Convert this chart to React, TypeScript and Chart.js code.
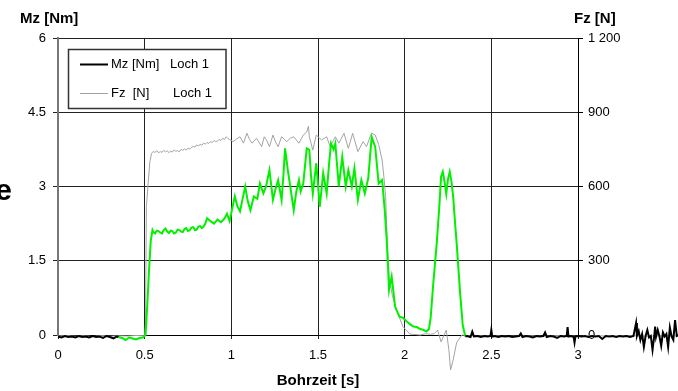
import React, { useEffect, useRef } from "react";
import { Chart, registerables } from "chart.js";

Chart.register(...registerables);

// x tick labels (Bohrzeit [s]) and y tick labels
const xTicks = [0, 0.5, 1, 1.5, 2, 2.5, 3];
const xTickLabels = ["0", "0.5", "1", "1.5", "2", "2.5", "3"];
const mzTicks = [0, 1.5, 3, 4.5, 6];
const mzTickLabels = ["0", "1.5", "3", "4.5", "6"];
const fzTicks = [0, 300, 600, 900, 1200];
const fzTickLabels = ["0", "300", "600", "900", "1 200"];

const seriesLabels = ["Mz [Nm]", "Fz  [N]"];
const holeLabel = "Loch 1";

// time window in which the Mz trace is drawn green
const mzGreenFrom = 0.35;
const mzGreenTo = 2.35;

// Mz [Nm] Loch 1 : [time s, torque Nm]
const mzPoints: [number, number][] = [
  [0, -0.03], [0.02, -0.05], [0.04, -0.02], [0.06, -0.04], [0.08, -0.03], [0.1, -0.05],
  [0.12, -0.02], [0.14, -0.04], [0.16, -0.03], [0.18, -0.05], [0.2, -0.02], [0.22, -0.04],
  [0.24, -0.03], [0.26, -0.06], [0.28, -0.02], [0.3, -0.04], [0.32, -0.07], [0.34, -0.03],
  [0.35, -0.04], [0.37, -0.06], [0.39, -0.1], [0.41, -0.05], [0.43, -0.07], [0.45, -0.09],
  [0.47, -0.06], [0.49, -0.05], [0.505, 0.0], [0.515, 0.6], [0.525, 1.3], [0.535, 1.9],
  [0.545, 2.12], [0.55, 2.08], [0.56, 2.05], [0.57, 2.11], [0.58, 2.1], [0.59, 2.07], [0.6, 2.05],
  [0.61, 2.12], [0.62, 2.15], [0.63, 2.09], [0.64, 2.06], [0.65, 2.11],
  [0.66, 2.1], [0.67, 2.05], [0.68, 2.07], [0.69, 2.13], [0.7, 2.12], [0.71, 2.09], [0.72, 2.08],
  [0.73, 2.14], [0.74, 2.16], [0.75, 2.1], [0.76, 2.12],
  [0.77, 2.17], [0.78, 2.18], [0.79, 2.12], [0.8, 2.13], [0.81, 2.19], [0.82, 2.2], [0.83, 2.16],
  [0.84, 2.19], [0.85, 2.25], [0.86, 2.36], [0.87, 2.33], [0.88, 2.3],
  [0.9, 2.25], [0.92, 2.33], [0.94, 2.28], [0.96, 2.35], [0.975, 2.45], [0.99, 2.3],
  [1.005, 2.55], [1.02, 2.8], [1.035, 2.6], [1.05, 2.5], [1.065, 2.75], [1.08, 3.0],
  [1.095, 2.7], [1.11, 2.52], [1.13, 2.8], [1.15, 2.75], [1.165, 3.06], [1.185, 2.86],
  [1.2, 3.0], [1.22, 3.33], [1.24, 2.73], [1.255, 2.95], [1.27, 3.13], [1.29, 2.73],
  [1.3, 3.2], [1.31, 3.77], [1.325, 3.35], [1.34, 3.0], [1.36, 2.52], [1.375, 2.9],
  [1.39, 3.13], [1.4, 2.9], [1.415, 3.06], [1.435, 3.77], [1.45, 3.74], [1.46, 3.2],
  [1.47, 2.86], [1.49, 3.47], [1.51, 2.59], [1.53, 3.27], [1.55, 2.86], [1.565, 3.5],
  [1.575, 3.87], [1.59, 3.75], [1.6, 3.87], [1.62, 3.0], [1.64, 3.6], [1.66, 3.0],
  [1.675, 3.33], [1.695, 3.0], [1.71, 3.37], [1.73, 2.73], [1.75, 3.13], [1.77, 2.86],
  [1.79, 3.17], [1.8, 3.6], [1.81, 4.0], [1.83, 3.8], [1.85, 3.06], [1.87, 3.13],
  [1.885, 2.52], [1.895, 2.0], [1.905, 1.3], [1.91, 0.91], [1.925, 1.18], [1.945, 0.57],
  [1.97, 0.37], [1.99, 0.35], [2.01, 0.28], [2.03, 0.22], [2.05, 0.17], [2.07, 0.16],
  [2.09, 0.12], [2.11, 0.1], [2.125, 0.07], [2.14, 0.12], [2.15, 0.35], [2.165, 1.04],
  [2.185, 1.85], [2.2, 2.6], [2.21, 3.2], [2.22, 3.3], [2.23, 3.1], [2.24, 2.85],
  [2.25, 3.15], [2.26, 3.3], [2.27, 3.1], [2.28, 2.79], [2.29, 2.3], [2.3, 1.85],
  [2.32, 0.84], [2.335, 0.2], [2.35, -0.03],
  [2.36, -0.02], [2.38, -0.04], [2.39, 0.07], [2.4, -0.03], [2.42, -0.02], [2.44, -0.04],
  [2.46, -0.02], [2.48, -0.03], [2.495, -0.02], [2.5, 0.1], [2.505, -0.03], [2.52, -0.02],
  [2.54, -0.04], [2.56, -0.02], [2.58, -0.03], [2.6, -0.02], [2.62, -0.04], [2.64, -0.03],
  [2.66, -0.02], [2.67, 0.03], [2.68, -0.04], [2.7, -0.02], [2.72, -0.03], [2.74, -0.05],
  [2.76, -0.02], [2.78, -0.03], [2.8, -0.02], [2.81, 0.05], [2.82, -0.04], [2.84, -0.02],
  [2.86, -0.03], [2.88, -0.06], [2.9, -0.02], [2.92, -0.03], [2.935, -0.02], [2.94, 0.16],
  [2.945, -0.03], [2.96, -0.02], [2.975, -0.04], [2.98, -0.15], [2.985, -0.03], [3.0, -0.02],
  [3.02, -0.03], [3.04, -0.02], [3.06, -0.04], [3.08, -0.02], [3.1, -0.03], [3.12, -0.02],
  [3.14, -0.08], [3.16, -0.02], [3.18, -0.03], [3.2, -0.02], [3.22, -0.04], [3.24, -0.02],
  [3.26, -0.03], [3.28, -0.02], [3.3, -0.04], [3.32, -0.02], [3.335, 0.24], [3.34, -0.02],
  [3.35, 0.08], [3.36, -0.1], [3.37, 0.02], [3.38, -0.24], [3.39, -0.02], [3.4, 0.1],
  [3.41, -0.05], [3.42, -0.02], [3.43, -0.3], [3.44, -0.02], [3.445, 0.17], [3.45, -0.04],
  [3.46, 0.1], [3.47, -0.03], [3.48, -0.22], [3.49, 0.05], [3.5, -0.03], [3.51, 0.02],
  [3.52, -0.24], [3.53, 0.15], [3.54, -0.03], [3.55, -0.1], [3.56, 0.3], [3.57, -0.02],
  [3.58, 0.0],
];

// Fz [N] Loch 1 : [time s, force N]
const fzPoints: [number, number][] = [
  [0, -4], [0.05, -2], [0.1, -5], [0.15, -3], [0.2, -6], [0.25, -2], [0.3, -5], [0.35, -3],
  [0.4, -4], [0.45, -2], [0.5, -3], [0.505, 50], [0.51, 518], [0.52, 613], [0.53, 700],
  [0.54, 734], [0.55, 742], [0.56, 737], [0.57, 745], [0.58, 736], [0.59, 741], [0.6, 738],
  [0.61, 746], [0.62, 740], [0.63, 744], [0.64, 737], [0.65, 743], [0.66, 739], [0.67, 748],
  [0.68, 742], [0.69, 745], [0.7, 740], [0.71, 750], [0.72, 746], [0.73, 752], [0.74, 747],
  [0.75, 755], [0.76, 751], [0.77, 758], [0.78, 762], [0.79, 759], [0.8, 768], [0.81, 764],
  [0.82, 770], [0.83, 767], [0.84, 775], [0.85, 771], [0.86, 778], [0.87, 774], [0.88, 781],
  [0.89, 778], [0.9, 786], [0.91, 781], [0.92, 784], [0.93, 790], [0.94, 786], [0.95, 795],
  [0.96, 790], [0.97, 801], [0.98, 794], [0.99, 790], [1.01, 781], [1.03, 792], [1.05, 801],
  [1.07, 775], [1.09, 815],
  [1.105, 790], [1.12, 775], [1.145, 795], [1.175, 761], [1.19, 801], [1.205, 785], [1.22, 761],
  [1.24, 808], [1.255, 780], [1.27, 761], [1.29, 801], [1.32, 781], [1.34, 795], [1.36, 801],
  [1.39, 775], [1.415, 808], [1.435, 820], [1.445, 844], [1.45, 801], [1.47, 747], [1.49, 808],
  [1.52, 788], [1.55, 801], [1.57, 761], [1.6, 801], [1.62, 775], [1.65, 815], [1.675, 754],
  [1.7, 815], [1.73, 741], [1.76, 781], [1.78, 761], [1.8, 800], [1.81, 815], [1.83, 808],
  [1.85, 770], [1.87, 707], [1.88, 640], [1.89, 559], [1.9, 370], [1.91, 236], [1.93, 155],
  [1.96, 88], [1.99, 34], [2.03, 4], [2.06, 2], [2.09, 0], [2.12, 5], [2.15, 3], [2.17, 5],
  [2.19, 20], [2.21, -28], [2.24, 20], [2.255, -60], [2.265, -141], [2.28, -100], [2.3, -30],
  [2.33, 0], [2.4, -4], [2.5, -2], [2.6, -5], [2.7, -3], [2.8, -4], [2.9, -2], [3.0, -5],
  [3.1, -3], [3.2, -4], [3.3, -2], [3.4, -5], [3.5, -3], [3.58, -4],
];

const FONT = "'Liberation Sans', Arial, Helvetica, sans-serif";
const GREEN = "#00f000";
const GRAY = "#a3a3a3";

const overlayPlugin = {
  id: "overlay",
  afterDraw(chart: any) {
    const ctx = chart.ctx as CanvasRenderingContext2D;
    ctx.save();
    ctx.fillStyle = "#000";
    ctx.textBaseline = "alphabetic";
    ctx.font = `bold 15px ${FONT}`;
    ctx.textAlign = "left";
    ctx.fillText("Mz [Nm]", 20, 23);
    ctx.fillText("Fz [N]", 574, 23);
    ctx.font = `bold 30px ${FONT}`;
    ctx.textAlign = "right";
    ctx.fillText("e", 12, 200);

    // legend box
    ctx.fillStyle = "#fff";
    ctx.fillRect(68, 49, 158, 60);
    ctx.strokeStyle = "#333";
    ctx.lineWidth = 1.5;
    ctx.strokeRect(68.5, 49.5, 157.5, 59);

    ctx.strokeStyle = "#000";
    ctx.lineWidth = 2;
    ctx.beginPath();
    ctx.moveTo(80, 64.5);
    ctx.lineTo(108, 64.5);
    ctx.stroke();
    ctx.strokeStyle = GRAY;
    ctx.lineWidth = 1;
    ctx.beginPath();
    ctx.moveTo(80, 93.5);
    ctx.lineTo(108, 93.5);
    ctx.stroke();

    ctx.fillStyle = "#000";
    ctx.font = `13px ${FONT}`;
    ctx.textAlign = "left";
    ctx.textBaseline = "middle";
    ctx.fillText(seriesLabels[0], 111, 64);
    ctx.fillText(holeLabel, 170, 64);
    ctx.fillText(seriesLabels[1], 111, 93);
    ctx.fillText(holeLabel, 173, 93);
    ctx.restore();
  },
};

export default function App() {
  const ref = useRef<HTMLCanvasElement | null>(null);
  useEffect(() => {
    if (!ref.current) return;
    Chart.defaults.font.family = FONT;
    const chart = new Chart(ref.current, {
      type: "line",
      data: {
        datasets: [
          {
            label: seriesLabels[0] + " " + holeLabel,
            data: mzPoints.map(([x, y]) => ({ x, y })),
            yAxisID: "y",
            borderColor: "#000",
            borderWidth: 2,
            pointRadius: 0,
            tension: 0,
            clip: false as any,
            segment: {
              borderColor: (c: any) =>
                c.p0.parsed.x >= mzGreenFrom && c.p1.parsed.x <= mzGreenTo ? GREEN : "#000",
            },
          },
          {
            label: seriesLabels[1] + " " + holeLabel,
            data: fzPoints.map(([x, y]) => ({ x, y })),
            yAxisID: "y2",
            borderColor: GRAY,
            borderWidth: 1,
            pointRadius: 0,
            tension: 0,
            clip: false as any,
          },
        ],
      },
      options: {
        animation: false,
        responsive: false,
        maintainAspectRatio: false,
        layout: { padding: { top: 38, left: 0, right: 0, bottom: 0 } },
        plugins: { legend: { display: false }, tooltip: { enabled: false } },
        scales: {
          x: {
            type: "linear",
            afterDataLimits: (s: any) => {
              s.min = xTicks[0];
              s.max = xTicks[xTicks.length - 1];
            },
            afterBuildTicks: (s: any) => {
              s.ticks = xTicks.map((v) => ({ value: v }));
            },
            afterFit: (s: any) => {
              s.height = 56;
            },
            ticks: {
              color: "#000",
              font: { size: 13 },
              padding: 9,
              maxRotation: 0,
              autoSkip: false,
              callback: (v: any) => xTickLabels[xTicks.indexOf(Number(v))] ?? "",
            },
            grid: { color: "#222", lineWidth: 1, tickLength: 4, tickColor: "#222" },
            border: { color: "#000", width: 1 },
            title: {
              display: true,
              text: "Bohrzeit [s]",
              color: "#000",
              font: { size: 15, weight: "bold" },
              padding: { top: 0, bottom: 1 },
            },
          },
          y: {
            position: "left",
            min: 0,
            max: 6,
            afterBuildTicks: (s: any) => {
              s.ticks = mzTicks.map((v) => ({ value: v }));
            },
            afterFit: (s: any) => {
              s.width = 58;
            },
            ticks: {
              color: "#000",
              font: { size: 13 },
              padding: 7,
              callback: (v: any) => mzTickLabels[mzTicks.indexOf(Number(v))] ?? "",
            },
            grid: { color: "#222", lineWidth: 1, tickLength: 5, tickColor: "#222" },
            border: { color: "#777", width: 2 },
          },
          y2: {
            position: "right",
            min: 0,
            max: 1200,
            afterBuildTicks: (s: any) => {
              s.ticks = fzTicks.map((v) => ({ value: v }));
            },
            afterFit: (s: any) => {
              s.width = 100;
            },
            ticks: {
              color: "#000",
              font: { size: 13 },
              padding: 5,
              callback: (v: any) => fzTickLabels[fzTicks.indexOf(Number(v))] ?? "",
            },
            grid: { drawOnChartArea: false, tickLength: 5, tickColor: "#000" },
            border: { color: "#000", width: 1 },
          },
        },
      },
      plugins: [overlayPlugin],
    } as any);
    return () => chart.destroy();
  }, []);
  return (
    <div style={{ position: "fixed", left: 0, top: 0, width: 678, height: 391, background: "#fff" }}>
      <canvas ref={ref} width={678} height={391} style={{ width: 678, height: 391, display: "block" }} />
    </div>
  );
}
